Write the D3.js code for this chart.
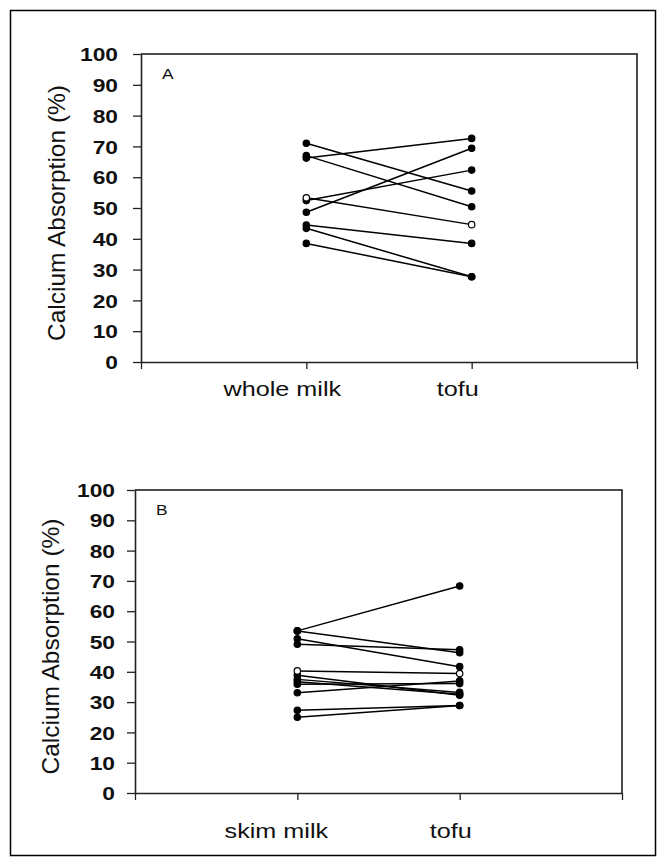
<!DOCTYPE html>
<html>
<head>
<meta charset="utf-8">
<script src="https://cdn.jsdelivr.net/npm/d3@7"></script>
<style>
  html, body { margin: 0; padding: 0; background: #fff; }
  svg { display: block; }
  text { font-family: "Liberation Sans", Arial, sans-serif; fill: #111; }
</style>
</head>
<body>
<svg id="chart" width="666" height="863"></svg>
<script>
// ---------- data ----------
const yTicks = [0, 10, 20, 30, 40, 50, 60, 70, 80, 90, 100];
const yTitle = "Calcium Absorption (%)";

const catsA = ["whole milk", "tofu"];
const milkA = [71.0, 67.0, 66.2, 53.3, 52.4, 48.6, 44.5, 43.4, 38.5];
const tofuA = [55.5, 50.4, 72.6, 44.6, 62.3, 69.4, 38.5, 27.7, 27.7];
const openA = [false, false, false, true, false, false, false, false, false];

const catsB = ["skim milk", "tofu"];
const milkB = [53.5, 53.5, 50.9, 49.1, 40.3, 38.9, 37.5, 36.7, 35.9, 33.1, 27.3, 25.0];
const tofuB = [68.3, 46.3, 41.7, 47.3, 39.4, 32.3, 33.2, 32.6, 36.1, 37.0, 28.9, 28.9];
const openB = [false, false, false, false, true, false, false, false, false, false, false, false];

// ---------- drawing ----------
const svg = d3.select("#chart");
const SX = 1.2; // horizontal stretch of the original lettering

svg.append("rect")
  .attr("x", 10.5).attr("y", 10.5)
  .attr("width", 645).attr("height", 845)
  .attr("fill", "none").attr("stroke", "#000").attr("stroke-width", 1.5);

function stretchText(sel, x, y) {
  sel.attr("x", null).attr("y", null)
     .attr("transform", `translate(${x},${y}) scale(${SX},1)`);
}

function panel(opt) {
  const { left, right, top, bottom, cats, before, after, open, letter, labelDx, labelY, titleX } = opt;
  const x = d3.scaleLinear().domain([0, 3]).range([left, right]);
  const y = d3.scaleLinear().domain([0, 100]).range([bottom, top]);
  const g = svg.append("g");

  // frame (top & right)
  g.append("path")
    .attr("d", `M${left},${top}H${right}V${bottom}`)
    .attr("fill", "none").attr("stroke", "#111").attr("stroke-width", 1.5);

  // left axis
  const ya = g.append("g").attr("transform", `translate(${left},0)`)
    .call(d3.axisLeft(y).tickValues(yTicks).tickSize(8).tickPadding(0).tickSizeOuter(0));
  ya.select(".domain").attr("stroke", "#222").attr("stroke-width", 1.6);
  ya.selectAll(".tick line").attr("stroke", "#222").attr("stroke-width", 1.3);
  ya.selectAll(".tick text").each(function (d) {
    const t = d3.select(this);
    t.attr("font-size", 19).attr("font-weight", "bold").attr("dy", "0.35em")
     .attr("text-anchor", "end").attr("font-family", "Liberation Sans, Arial, sans-serif")
     .attr("fill", "#111");
    stretchText(t, -(left - opt.tickLabelRight), 0);
  });

  // bottom axis
  const xa = g.append("g").attr("transform", `translate(0,${bottom})`)
    .call(d3.axisBottom(x).tickValues([0, 1, 2, 3]).tickFormat("").tickSize(7).tickSizeOuter(0));
  xa.select(".domain").attr("stroke", "#222").attr("stroke-width", 1.6);
  xa.selectAll(".tick line").attr("stroke", "#222").attr("stroke-width", 1.3);

  // category labels
  cats.forEach((c, i) => {
    const t = g.append("text").text(c).attr("font-size", 21).attr("text-anchor", "middle");
    stretchText(t, x(i + 1) + labelDx[i], labelY);
  });

  // panel letter
  const lt = g.append("text").text(letter).attr("font-size", 14.5);
  stretchText(lt, left + 21, top + 25);

  // y title
  g.append("text").text(yTitle)
    .attr("font-size", 24.5).attr("text-anchor", "middle")
    .attr("transform", `translate(${titleX},${(top + bottom) / 2 + 5}) rotate(-90)`);

  // subject lines
  const pairs = before.map((v, i) => ({ a: v, b: after[i], open: open[i] }));
  g.selectAll("line.subj").data(pairs).enter().append("line")
    .attr("class", "subj")
    .attr("x1", x(1)).attr("x2", x(2))
    .attr("y1", d => y(d.a)).attr("y2", d => y(d.b))
    .attr("stroke", "#000").attr("stroke-width", 1.5);

  const pts = [];
  pairs.forEach(p => { pts.push({ c: 1, v: p.a, open: p.open }); pts.push({ c: 2, v: p.b, open: p.open }); });
  pts.sort((p, q) => (p.open === q.open ? 0 : p.open ? 1 : -1));
  g.selectAll("circle").data(pts).enter().append("circle")
    .attr("cx", d => x(d.c)).attr("cy", d => y(d.v))
    .attr("r", 3.2)
    .attr("fill", d => d.open ? "#fff" : "#000")
    .attr("stroke", "#000").attr("stroke-width", 1.2);
}

panel({
  left: 141, right: 637, top: 54, bottom: 362,
  cats: catsA, before: milkA, after: tofuA, open: openA, letter: "A",
  labelDx: [-24, -14], labelY: 396, titleX: 65, tickLabelRight: 118
});
panel({
  left: 135, right: 622, top: 490, bottom: 793,
  cats: catsB, before: milkB, after: tofuB, open: openB, letter: "B",
  labelDx: [-21, -9], labelY: 838, titleX: 59, tickLabelRight: 115
});
</script>
</body>
</html>
